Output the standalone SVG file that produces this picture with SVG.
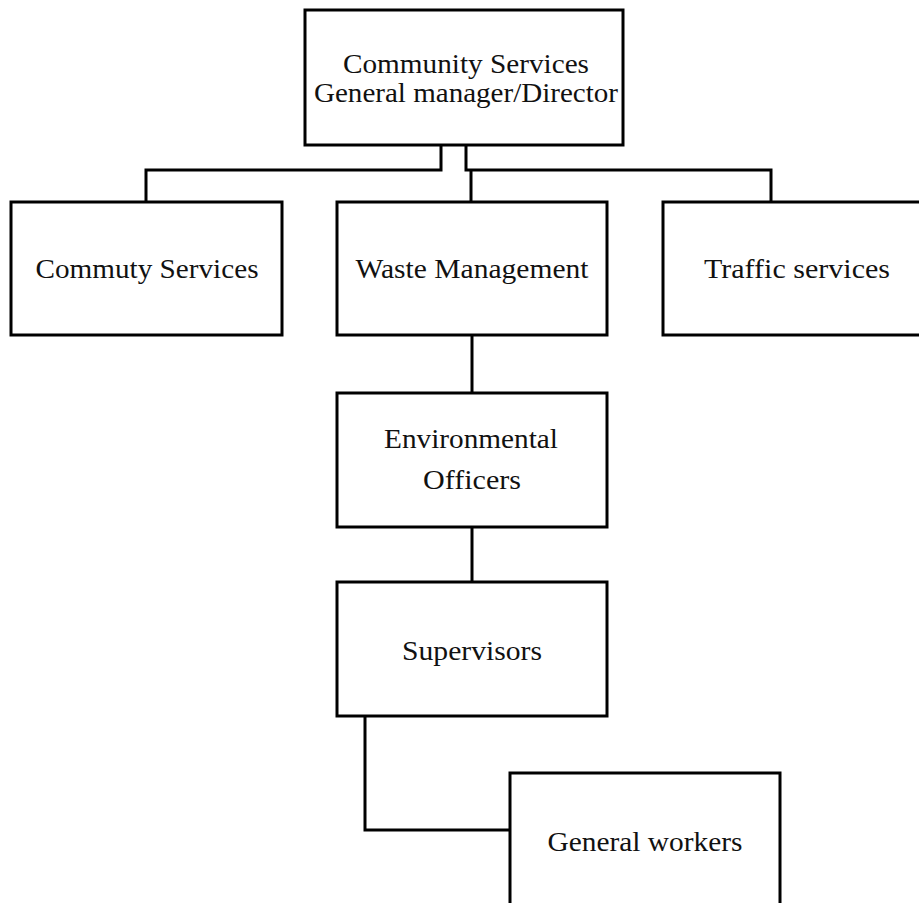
<svg xmlns="http://www.w3.org/2000/svg" width="919" height="903" viewBox="0 0 919 903">
<style>
.box{fill:#fff;stroke:#000;stroke-width:3}
.lbl{font-family:"Liberation Serif","Times New Roman",serif;font-size:27px;fill:#111;text-anchor:middle}
.con{fill:none;stroke:#000;stroke-width:3;stroke-linejoin:miter}
</style>
<rect width="919" height="903" fill="#fff"/>
<g id="connectors">
<polyline class="con" points="441,145 441,170 146,170 146,202"/>
<polyline class="con" points="466,145 466,170 771,170 771,202"/>
<line class="con" x1="471" y1="170" x2="471" y2="202"/>
<line class="con" x1="472" y1="335" x2="472" y2="393"/>
<line class="con" x1="472" y1="527" x2="472" y2="582"/>
<polyline class="con" points="365,716 365,830 510,830"/>
</g>
<g id="director">
<rect class="box" x="305" y="10" width="318" height="135"/>
<text class="lbl" x="466" y="73" textLength="246" lengthAdjust="spacingAndGlyphs">Community Services</text>
<text class="lbl" x="466" y="102" textLength="304" lengthAdjust="spacingAndGlyphs">General manager/Director</text>
</g>
<g id="community">
<rect class="box" x="11" y="202" width="271" height="133"/>
<text class="lbl" x="147" y="278" textLength="223" lengthAdjust="spacingAndGlyphs">Commuty Services</text>
</g>
<g id="waste">
<rect class="box" x="337" y="202" width="270" height="133"/>
<text class="lbl" x="472" y="278" textLength="233" lengthAdjust="spacingAndGlyphs">Waste Management</text>
</g>
<g id="traffic">
<rect class="box" x="663" y="202" width="268" height="133"/>
<text class="lbl" x="797" y="278" textLength="186" lengthAdjust="spacingAndGlyphs">Traffic services</text>
</g>
<g id="environmental">
<rect class="box" x="337" y="393" width="270" height="134"/>
<text class="lbl" x="471" y="448" textLength="174" lengthAdjust="spacingAndGlyphs">Environmental</text>
<text class="lbl" x="472" y="489" textLength="98" lengthAdjust="spacingAndGlyphs">Officers</text>
</g>
<g id="supervisors">
<rect class="box" x="337" y="582" width="270" height="134"/>
<text class="lbl" x="472" y="660" textLength="140" lengthAdjust="spacingAndGlyphs">Supervisors</text>
</g>
<g id="workers">
<rect class="box" x="510" y="773" width="270" height="134"/>
<text class="lbl" x="645" y="851" textLength="195" lengthAdjust="spacingAndGlyphs">General workers</text>
</g>
</svg>
